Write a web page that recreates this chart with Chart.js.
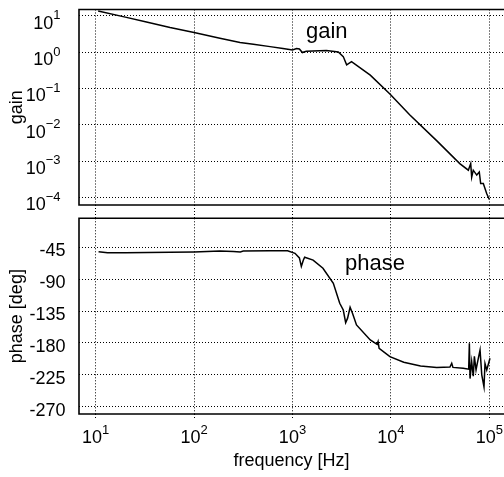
<!DOCTYPE html>
<html>
<head>
<meta charset="utf-8">
<script src="https://cdn.jsdelivr.net/npm/chart.js@4/dist/chart.umd.min.js"></script>
<style>
  body { margin: 0; background: #fff; overflow: hidden; }
  #wrap { position: relative; width: 504px; height: 477px; background: #fff; }
  canvas { position: absolute; left: 0; }
  #gainChart { top: 0; }
  #phaseChart { top: 216px; }
</style>
</head>
<body>
<div id="wrap">
  <canvas id="gainChart" width="504" height="218"></canvas>
  <canvas id="phaseChart" width="504" height="261"></canvas>
</div>
<script>
const gainFreq = [10.6, 20, 32, 57, 100, 183, 293, 400, 592, 800, 1000, 1100, 1175, 1260, 1380, 2210, 2920,
  3280, 3550, 3980, 6170, 9770, 15500, 29500, 50100, 61200, 64700, 66200, 68700, 74500, 79100, 81700,
  86900, 94200, 100000];
const gainValues = [13.8, 9.3, 6.9, 4.8, 3.5, 2.45, 1.86, 1.66, 1.43, 1.26, 1.15, 1.26, 1.23, 0.98, 1.07, 1.11, 1.02,
  0.76, 0.45, 0.55, 0.234, 0.071, 0.019, 0.00355, 0.00085, 0.00056, 0.00085, 0.00036, 0.00056, 0.00041, 0.0005, 0.00024,
  0.00024, 0.000126, 0.000087];

const phaseFreq = [10.7, 13.2, 20, 57, 100, 183, 251, 295, 316, 592, 891, 1060, 1175, 1230, 1290, 1330, 1620,
  2040, 2600, 3020, 3280, 3470, 3630, 3850, 4070, 4470, 6170, 7240, 7410, 7590, 9770, 13500, 20000, 29200,
  39800, 41500, 42700, 54300, 61700, 62700, 63700, 66200, 68700, 70500, 73300, 75500, 80500, 83800, 88300,
  90400, 94200, 101600];
const phaseValues = [-51.2, -52.6, -52.8, -52, -51.5, -50.2, -50.8, -51.5, -50.2, -49.8, -50, -53.5, -60, -72, -63, -59, -63,
  -74.6, -95.8, -124, -133.5, -151.4, -145, -129.6, -138, -154.6, -175.8, -182, -178, -187.5, -199.3, -207.3, -212.5, -214.8,
  -214, -208.7, -214.5, -215.7, -217, -180.4, -230.3, -206.4, -227, -199, -218, -208.7, -190, -225, -242,
  -209, -218, -201.6];

const freqTicks = [10, 100, 1000, 10000, 100000];
const gainTicks = [0.0001, 0.001, 0.01, 0.1, 1, 10];
const phaseTicks = [-270, -225, -180, -135, -90, -45];

const FONT = '"Liberation Sans", Arial, Helvetica, sans-serif';
Chart.defaults.font.family = FONT;
Chart.defaults.color = '#000';

function toPoints(xs, ys) {
    return xs.map((x, i) => ({ x: x, y: ys[i] }));
}

function gridOpts(tickLen) {
    return {
        color: '#000',
        lineWidth: 1,
        drawTicks: tickLen > 0,
        tickLength: tickLen,
        tickColor: '#000',
        tickBorderDash: [1, 2],
        tickWidth: 1
    };
}

// grid lines take their dash from the border options in v4
const dottedBorder = { display: false, dash: [1, 2] };

// "10" with a raised exponent
function drawPow(ctx, exp, x, y, align) {
    ctx.font = '18px ' + FONT;
    const wb = ctx.measureText('10').width;
    const es = exp < 0 ? '\u2212' + (-exp) : String(exp);
    ctx.font = '13px ' + FONT;
    const we = ctx.measureText(es).width;
    const left = align === 'right' ? x - wb - we : x - (wb + we) / 2;
    ctx.textAlign = 'left';
    ctx.textBaseline = 'alphabetic';
    ctx.font = '18px ' + FONT;
    ctx.fillText('10', left, y);
    ctx.font = '13px ' + FONT;
    ctx.fillText(es, left + wb, y - 9.5);
}

function drawFrame(chart) {
    const ctx = chart.ctx;
    const a = chart.chartArea;
    ctx.save();
    ctx.strokeStyle = '#000';
    ctx.lineWidth = 1.6;
    ctx.beginPath();
    ctx.moveTo(chart.width + 2, a.top);
    ctx.lineTo(a.left, a.top);
    ctx.lineTo(a.left, a.bottom);
    ctx.lineTo(chart.width + 2, a.bottom);
    ctx.stroke();
    ctx.restore();
}

const gainDecor = {
    id: 'gainDecor',
    afterDraw(chart) {
        drawFrame(chart);
        const ctx = chart.ctx;
        const y = chart.scales.y;
        const x = chart.scales.x;
        ctx.save();
        ctx.fillStyle = '#000';
        gainTicks.forEach(v => {
            drawPow(ctx, Math.round(Math.log10(v)), 60.5, y.getPixelForValue(v) + 12.8, 'right');
        });
        ctx.font = '22px ' + FONT;
        ctx.textAlign = 'center';
        ctx.textBaseline = 'alphabetic';
        ctx.fillText('gain', x.getPixelForValue(2230), y.getPixelForValue(2.5));
        ctx.restore();
    }
};

const phaseDecor = {
    id: 'phaseDecor',
    afterDraw(chart) {
        drawFrame(chart);
        const ctx = chart.ctx;
        const y = chart.scales.y;
        const x = chart.scales.x;
        ctx.save();
        ctx.fillStyle = '#000';
        ctx.font = '18px ' + FONT;
        ctx.textAlign = 'right';
        ctx.textBaseline = 'alphabetic';
        phaseTicks.forEach(v => {
            ctx.fillText(String(v), 65.5, y.getPixelForValue(v) + 9);
        });
        freqTicks.forEach(v => {
            drawPow(ctx, Math.round(Math.log10(v)), x.getPixelForValue(v), chart.chartArea.bottom + 29.3, 'center');
        });
        ctx.font = '22px ' + FONT;
        ctx.textAlign = 'center';
        ctx.fillText('phase', x.getPixelForValue(6890), y.getPixelForValue(-77.6));
        ctx.restore();
    }
};

const lineStyle = {
    borderColor: '#000',
    borderWidth: 1.5,
    pointRadius: 0,
    showLine: true,
    fill: false,
    tension: 0
};

new Chart(document.getElementById('gainChart'), {
    type: 'scatter',
    data: {
        datasets: [Object.assign({ data: toPoints(gainFreq, gainValues) }, lineStyle)]
    },
    options: {
        responsive: false,
        animation: false,
        layout: { padding: { top: 9.5, left: 0, right: 0, bottom: 0 } },
        plugins: { legend: { display: false }, tooltip: { enabled: false } },
        scales: {
            x: {
                type: 'logarithmic',
                min: 6.77,
                max: 141000,
                afterBuildTicks: s => { s.ticks = freqTicks.map(v => ({ value: v })); },
                afterFit: s => { s.height = 13; },
                ticks: { display: false },
                grid: gridOpts(13),
                border: dottedBorder
            },
            y: {
                type: 'logarithmic',
                min: 6.14e-5,
                max: 15.1,
                afterBuildTicks: s => { s.ticks = gainTicks.map(v => ({ value: v })); },
                afterFit: s => { s.width = 79; },
                ticks: { display: false },
                grid: gridOpts(0),
                border: dottedBorder,
                title: { display: true, text: 'gain', font: { size: 18 }, color: '#000', padding: { top: 6.2, bottom: 0 } }
            }
        }
    },
    plugins: [gainDecor]
});

new Chart(document.getElementById('phaseChart'), {
    type: 'scatter',
    data: {
        datasets: [Object.assign({ data: toPoints(phaseFreq, phaseValues) }, lineStyle)]
    },
    options: {
        responsive: false,
        animation: false,
        layout: { padding: { top: 2.3, left: 0, right: 0, bottom: 0 } },
        plugins: { legend: { display: false }, tooltip: { enabled: false } },
        scales: {
            x: {
                type: 'logarithmic',
                min: 6.77,
                max: 141000,
                afterBuildTicks: s => { s.ticks = freqTicks.map(v => ({ value: v })); },
                afterFit: s => { s.height = 63; },
                ticks: { display: false },
                grid: gridOpts(6),
                border: dottedBorder,
                title: { display: true, text: 'frequency [Hz]', font: { size: 18 }, color: '#000', padding: { top: 0, bottom: 5.4 } }
            },
            y: {
                min: -280.3,
                max: -4.07,
                afterBuildTicks: s => { s.ticks = phaseTicks.map(v => ({ value: v })); },
                afterFit: s => { s.width = 79; },
                ticks: { display: false },
                grid: gridOpts(0),
                border: dottedBorder,
                title: { display: true, text: 'phase [deg]', font: { size: 18 }, color: '#000', padding: { top: 6.2, bottom: 0 } }
            }
        }
    },
    plugins: [phaseDecor]
});
</script>
</body>
</html>
